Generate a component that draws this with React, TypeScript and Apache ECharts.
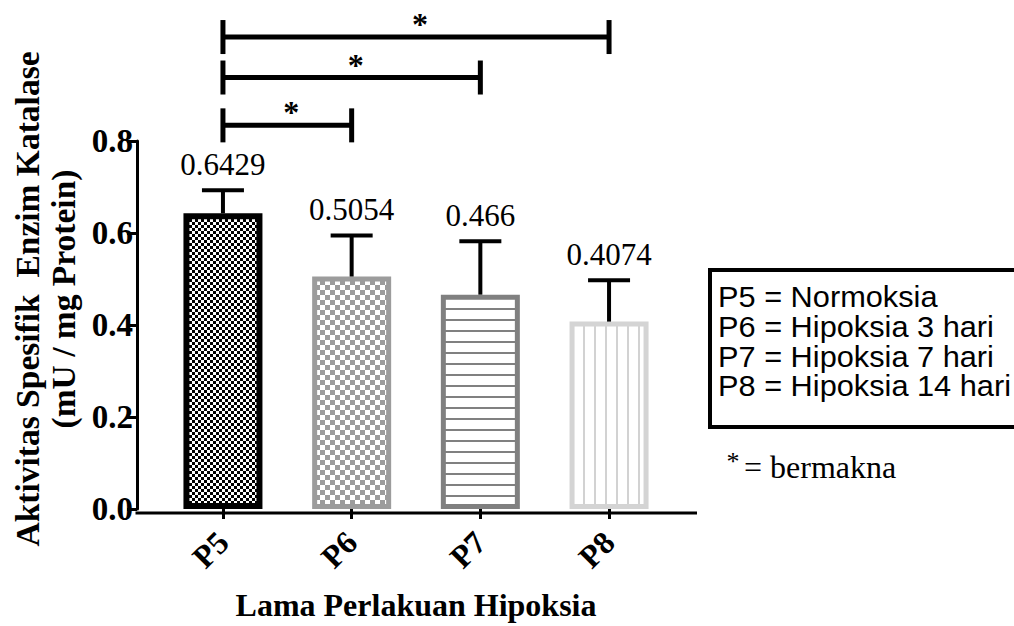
import React, { useEffect, useRef } from "react";
import * as echarts from "echarts";

// Catalase specific activity per treatment group
const categories = ["P5", "P6", "P7", "P8"];
const means = [0.6429, 0.5054, 0.466, 0.4074];
const sds = [0.05, 0.089, 0.116, 0.09];
const yTickStep = 0.2;
const yMax = 0.8;

// Significance brackets: [from group, to group, bracket height]
const comparisons = [
  [0, 1, 0.834],
  [0, 2, 0.938],
  [0, 3, 1.026],
];

const legendLines = [
  "P5 = Normoksia",
  "P6 = Hipoksia 3 hari",
  "P7 = Hipoksia 7 hari",
  "P8 = Hipoksia 14 hari",
];

const SERIF = '"Liberation Serif", "Times New Roman", serif';
const SANS = '"Liberation Sans", Arial, sans-serif';

function makeTile(w: number, h: number, draw: (ctx: CanvasRenderingContext2D) => void) {
  const c = document.createElement("canvas");
  c.width = w;
  c.height = h;
  const ctx = c.getContext("2d")!;
  ctx.fillStyle = "#ffffff";
  ctx.fillRect(0, 0, w, h);
  draw(ctx);
  return c;
}

function checker(cell: number, color: string) {
  return makeTile(cell * 2, cell * 2, (ctx) => {
    ctx.fillStyle = color;
    ctx.fillRect(0, 0, cell, cell);
    ctx.fillRect(cell, cell, cell, cell);
  });
}

export default function App() {
  const ref = useRef<HTMLDivElement>(null);

  useEffect(() => {
    if (!ref.current) return;
    const chart = echarts.init(ref.current, undefined, { renderer: "svg" });

    const fills = [
      checker(3, "#000000"),
      checker(5, "#9c9c9c"),
      makeTile(4, 11, (ctx) => {
        ctx.fillStyle = "#808080";
        ctx.fillRect(0, 0, 4, 2);
      }),
      makeTile(11, 4, (ctx) => {
        ctx.fillStyle = "#d2d2d2";
        ctx.fillRect(0, 0, 2, 4);
      }),
    ];
    const borders = ["#000000", "#9c9c9c", "#808080", "#d4d4d4"];
    const borderWidths = [6, 5, 5, 5];

    const barData = means.map((v, i) => ({
      value: v,
      itemStyle: {
        color: { image: fills[i], repeat: "repeat" } as any,
        borderColor: borders[i],
        borderWidth: borderWidths[i],
      },
    }));

    const option: any = {
      animation: false,
      backgroundColor: "#ffffff",
      grid: { left: 158.6, top: 141, width: 514.8, height: 372 },
      xAxis: {
        type: "category",
        data: categories,
        axisLine: { show: false },
        axisTick: { show: true, alignWithLabel: true, length: 10, lineStyle: { color: "#000", width: 3 } },
        axisLabel: {
          rotate: 45,
          margin: 28,
          color: "#000",
          fontFamily: SERIF,
          fontWeight: "bold",
          fontSize: 32,
        },
        name: "Lama Perlakuan Hipoksia",
        nameLocation: "middle",
        nameGap: 80,
        nameTextStyle: { color: "#000", fontFamily: SERIF, fontWeight: "bold", fontSize: 32 },
      },
      yAxis: {
        type: "value",
        min: 0,
        max: yMax,
        interval: yTickStep,
        offset: 21.6,
        splitLine: { show: false },
        axisLine: { show: true, lineStyle: { color: "#000", width: 3 } },
        axisTick: { show: true, length: 10, lineStyle: { color: "#000", width: 3 } },
        axisLabel: {
          margin: 4,
          color: "#000",
          fontFamily: SERIF,
          fontWeight: "bold",
          fontSize: 33,
          formatter: (v: number) => v.toFixed(1),
        },
      },
      series: [
        {
          type: "bar",
          data: barData,
          barWidth: 79,
          z: 2,
        },
        {
          // error bars (mean + SD) with the mean written above
          type: "custom",
          z: 3,
          data: means.map((m, i) => [i, m, sds[i]]),
          encode: { x: 0, y: 1 },
          renderItem: (params: any, api: any) => {
            const idx = api.value(0);
            const m = api.value(1);
            const sd = api.value(2);
            const base = api.coord([idx, m]);
            const top = api.coord([idx, m + sd]);
            const half = 21;
            return {
              type: "group",
              children: [
                {
                  type: "line",
                  shape: { x1: base[0], y1: base[1], x2: top[0], y2: top[1] },
                  style: { stroke: "#000", lineWidth: 4 },
                },
                {
                  type: "line",
                  shape: { x1: top[0] - half, y1: top[1], x2: top[0] + half, y2: top[1] },
                  style: { stroke: "#000", lineWidth: 4 },
                },
                {
                  type: "text",
                  style: {
                    text: String(means[idx]),
                    x: top[0],
                    y: top[1] - 26,
                    align: "center",
                    verticalAlign: "middle",
                    font: `31px ${SERIF}`,
                    fill: "#000",
                  },
                },
              ],
            };
          },
        },
        {
          // significance brackets
          type: "custom",
          z: 3,
          clip: false,
          data: comparisons,
          encode: { x: [0, 1], y: 2 },
          renderItem: (params: any, api: any) => {
            const a = api.coord([api.value(0), api.value(2)]);
            const b = api.coord([api.value(1), api.value(2)]);
            const y = a[1];
            const h = 17;
            return {
              type: "group",
              children: [
                { type: "line", shape: { x1: a[0], y1: y, x2: b[0], y2: y }, style: { stroke: "#000", lineWidth: 5 } },
                { type: "line", shape: { x1: a[0], y1: y - h, x2: a[0], y2: y + h }, style: { stroke: "#000", lineWidth: 5 } },
                { type: "line", shape: { x1: b[0], y1: y - h, x2: b[0], y2: y + h }, style: { stroke: "#000", lineWidth: 5 } },
                {
                  type: "text",
                  style: {
                    text: "*",
                    x: (a[0] + b[0]) / 2 + 4,
                    y: y - 13,
                    align: "center",
                    verticalAlign: "middle",
                    font: `bold 32px ${SERIF}`,
                    fill: "#000",
                  },
                },
              ],
            };
          },
        },
      ],
      graphic: [
        {
          type: "line",
          shape: { x1: 135.5, y1: 513, x2: 697, y2: 513 },
          style: { stroke: "#000", lineWidth: 3 },
          z: 10,
        },
        {
          type: "text",
          x: 45,
          y: 299,
          rotation: Math.PI / 2,
          style: {
            text: "Aktivitas Spesifik  Enzim Katalase\n(mU / mg Protein)",
            align: "center",
            verticalAlign: "middle",
            lineHeight: 36,
            font: `bold 33.5px ${SERIF}`,
            fill: "#000",
          },
        },
        {
          type: "rect",
          shape: { x: 710, y: 270, width: 310, height: 157 },
          style: { fill: "#fff", stroke: "#000", lineWidth: 4 },
        },
        ...legendLines.map((t, i) => ({
          type: "text",
          x: 718,
          y: 297 + i * 29.7,
          scaleX: 1.06,
          style: {
            text: t,
            align: "left",
            verticalAlign: "middle",
            font: `29px ${SANS}`,
            fill: "#000",
          },
        })),
        {
          type: "text",
          x: 733,
          y: 461,
          style: { text: "*", align: "center", verticalAlign: "middle", font: `26px ${SERIF}`, fill: "#000" },
        },
        {
          type: "text",
          x: 744,
          y: 467,
          style: { text: "= bermakna", align: "left", verticalAlign: "middle", font: `32px ${SERIF}`, fill: "#000" },
        },
      ],
    };

    chart.setOption(option);
    return () => chart.dispose();
  }, []);

  return (
    <div
      ref={ref}
      style={{ position: "absolute", left: 0, top: 0, width: 1014, height: 626, background: "#fff" }}
    />
  );
}
